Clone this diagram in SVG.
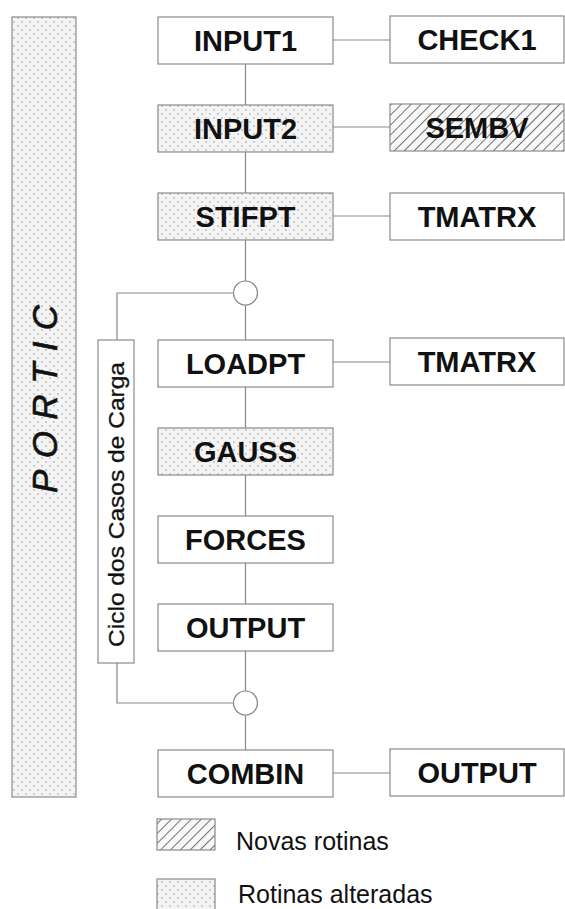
<svg xmlns="http://www.w3.org/2000/svg" width="565" height="909" viewBox="0 0 565 909">
<defs>
<pattern id="dots" width="8" height="8" patternUnits="userSpaceOnUse">
<rect width="8" height="8" fill="#f4f4f4"/>
<circle cx="2" cy="2" r="0.8" fill="#999"/>
<circle cx="6" cy="6" r="0.8" fill="#999"/>
</pattern>
<pattern id="hatch" width="7" height="7" patternUnits="userSpaceOnUse" patternTransform="rotate(45)">
<rect width="7" height="7" fill="#f8f8f8"/>
<line x1="0" y1="0" x2="0" y2="7" stroke="#444" stroke-width="1.5"/>
</pattern>
</defs>
<style>
.box{fill:#fff;stroke:#8a8a8a;stroke-width:1.2}
.alt{fill:url(#dots);stroke:#8a8a8a;stroke-width:1.2}
.new{fill:url(#hatch);stroke:#8a8a8a;stroke-width:1.2}
.lbl{font-family:"Liberation Sans",Arial,sans-serif;font-weight:bold;font-size:29px;fill:#111;text-anchor:middle}
.leg{font-family:"Liberation Sans",Arial,sans-serif;font-size:25px;fill:#111}
.conn line,.conn path{stroke:#888;stroke-width:1.2;fill:none}
.conn circle{fill:#fff;stroke:#888;stroke-width:1.2}
</style>
<g id="portic">
<rect class="alt" x="12" y="17" width="64" height="780"/>
<text transform="translate(57,399) rotate(-90)" text-anchor="middle" textLength="188" lengthAdjust="spacing" font-family="'Liberation Sans',Arial,sans-serif" font-style="italic" font-size="35" fill="#111" stroke="#111" stroke-width="0.6">PORTIC</text>
</g>
<g class="conn" id="connectors">
<line x1="245.5" y1="64" x2="245.5" y2="105"/>
<line x1="245.5" y1="152" x2="245.5" y2="193"/>
<line x1="245.5" y1="240" x2="245.5" y2="281"/>
<line x1="245.5" y1="305" x2="245.5" y2="340"/>
<line x1="245.5" y1="387" x2="245.5" y2="428"/>
<line x1="245.5" y1="475" x2="245.5" y2="516"/>
<line x1="245.5" y1="563" x2="245.5" y2="604"/>
<line x1="245.5" y1="651" x2="245.5" y2="691"/>
<line x1="245.5" y1="715" x2="245.5" y2="750"/>
<line x1="333" y1="40" x2="390" y2="40"/>
<line x1="333" y1="127" x2="390" y2="127"/>
<line x1="333" y1="216" x2="390" y2="216"/>
<line x1="333" y1="362" x2="390" y2="362"/>
<line x1="333" y1="773" x2="390" y2="773"/>
<path d="M117,340 V293 H233.5"/>
<path d="M117,663 V703 H233.5"/>
<circle cx="245.5" cy="293" r="12"/>
<circle cx="245.5" cy="703" r="12"/>
</g>
<g id="input1"><rect class="box" x="158" y="17" width="175" height="47"/><text class="lbl" x="245.5" y="51">INPUT1</text></g>
<g id="check1"><rect class="box" x="390" y="16" width="174" height="47"/><text class="lbl" x="477" y="50">CHECK1</text></g>
<g id="input2"><rect class="alt" x="158" y="105" width="175" height="47"/><text class="lbl" x="245.5" y="139">INPUT2</text></g>
<g id="sembv"><rect class="new" x="390" y="104" width="174" height="47"/><text class="lbl" x="477" y="138">SEMBV</text></g>
<g id="stifpt"><rect class="alt" x="158" y="193" width="175" height="47"/><text class="lbl" x="245.5" y="227">STIFPT</text></g>
<g id="tmatrx1"><rect class="box" x="390" y="193" width="174" height="47"/><text class="lbl" x="477" y="227">TMATRX</text></g>
<g id="ciclo">
<rect class="box" x="98" y="340" width="36" height="323"/>
<text transform="translate(124,504.5) rotate(-90)" text-anchor="middle" textLength="285" lengthAdjust="spacingAndGlyphs" font-family="'Liberation Sans',Arial,sans-serif" font-size="22" fill="#111" stroke="#111" stroke-width="0.3">Ciclo dos Casos de Carga</text>
</g>
<g id="loadpt"><rect class="box" x="158" y="340" width="175" height="47"/><text class="lbl" x="245.5" y="374">LOADPT</text></g>
<g id="tmatrx2"><rect class="box" x="390" y="338" width="174" height="47"/><text class="lbl" x="477" y="372">TMATRX</text></g>
<g id="gauss"><rect class="alt" x="158" y="428" width="175" height="47"/><text class="lbl" x="245.5" y="462">GAUSS</text></g>
<g id="forces"><rect class="box" x="158" y="516" width="175" height="47"/><text class="lbl" x="245.5" y="550">FORCES</text></g>
<g id="output1"><rect class="box" x="158" y="604" width="175" height="47"/><text class="lbl" x="245.5" y="638">OUTPUT</text></g>
<g id="combin"><rect class="box" x="158" y="750" width="175" height="47"/><text class="lbl" x="245.5" y="784">COMBIN</text></g>
<g id="output2"><rect class="box" x="390" y="749" width="174" height="47"/><text class="lbl" x="477" y="783">OUTPUT</text></g>
<g id="legend">
<rect class="new" x="157" y="819" width="58" height="31"/>
<text class="leg" x="236" y="850">Novas rotinas</text>
<rect class="alt" x="157" y="879" width="58" height="34"/>
<text class="leg" x="238" y="903">Rotinas alteradas</text>
</g>
</svg>
